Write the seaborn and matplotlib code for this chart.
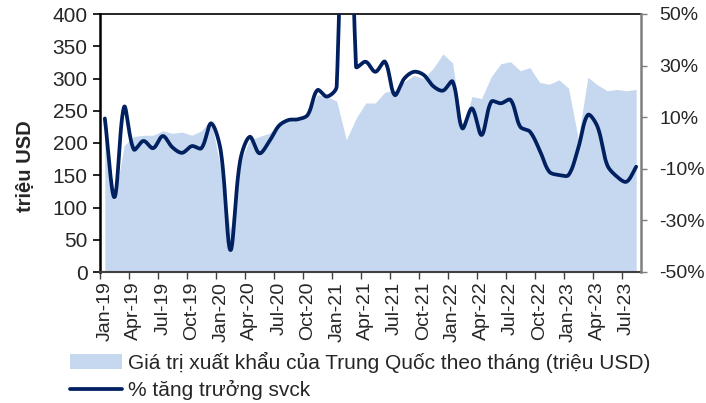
import numpy as np
import pandas as pd
import matplotlib
matplotlib.use("Agg")
import matplotlib.pyplot as plt
import seaborn as sns
from matplotlib.patches import Patch
from matplotlib.lines import Line2D

# ── data ─────────────────────────────────────────────────────────
months = pd.date_range("2019-01-01", "2023-08-01", freq="MS")
month_labels = [d.strftime("%b-%y") for d in months]

export_value = [
    225, 110, 196, 210, 212, 212, 219, 215, 217, 212, 219, 236,   # 2019
    160, 65, 170, 205, 210, 215, 228, 235, 238, 243, 275, 272,    # 2020
    265, 205, 238, 262, 262, 279, 281, 295, 305, 300, 316, 338,   # 2021
    324, 218, 272, 269, 303, 323, 326, 312, 317, 294, 291, 298,   # 2022
    285, 207, 302, 290, 281, 283, 281, 283,                       # 2023
]
yoy_growth = [
    9.5, -21, 14, -2.5, 0.8, -2, 2.7, -1.7, -3.8, -1.2, -2, 7.6,
    -3, -41.5, -7, 2.4, -4, 0.5, 6.6, 8.9, 9.2, 10.9, 20.5, 18,
    22, 200, 29.6, 31.5, 27.6, 31.5, 18.6, 25, 27.6, 26.4, 22, 20.3,
    23.8, 5.7, 13.4, 3.1, 16, 15.4, 16.7, 6.3, 4.4, -2.7, -11.1, -12.4,
    -12.4, -2, 10.9, 6.3, -8.5, -13, -15, -9.2,
]

area_label = "Giá trị xuất khẩu của Trung Quốc theo tháng (triệu USD)"
line_label = "% tăng trưởng svck"

AREA_COLOR = "#C6D8EF"
LINE_COLOR = "#002060"


def smooth_curve(xs, ys, sx, sy, n=24):
    """Excel-style smoothed line: bezier segments built in pixel space."""
    P = np.column_stack([np.asarray(xs, float) * sx, np.asarray(ys, float) * sy])
    pts = []
    last = len(P) - 1
    for i in range(last):
        p0, p1, p2, p3 = P[max(i - 1, 0)], P[i], P[i + 1], P[min(i + 2, last)]
        d1 = np.linalg.norm(p1 - p0)
        d2 = np.linalg.norm(p2 - p1)
        d3 = np.linalg.norm(p3 - p2)
        c1 = p1 + (p2 - p0) * d2 / (d1 + d2 + 1e-9) / 3
        c2 = p2 - (p3 - p1) * d2 / (d2 + d3 + 1e-9) / 3
        t = np.linspace(0, 1, n, endpoint=(i == last - 1))[:, None]
        seg = ((1 - t) ** 3) * p1 + 3 * ((1 - t) ** 2) * t * c1 \
            + 3 * (1 - t) * t ** 2 * c2 + t ** 3 * p2
        pts.append(seg)
    pts = np.vstack(pts)
    return pts[:, 0] / sx, pts[:, 1] / sy


sns.set_style("white")
plt.rcParams["font.family"] = ["Liberation Sans", "DejaVu Sans"]
plt.rcParams["font.size"] = 14

fig = plt.figure(figsize=(7.06, 4.03), dpi=100)
ax = fig.add_axes([100 / 706, 1 - 272 / 403, 541 / 706, 258 / 403])
ax2 = ax.twinx()

x = np.arange(len(months))

# area (left axis)
ax.fill_between(x, export_value, 0, color=AREA_COLOR, lw=0)
ax.set_xlim(-0.5, len(months) - 0.5)
ax.set_ylim(0, 400)
ax.set_yticks(np.arange(0, 401, 50))

# smoothed growth line (right axis)
px_per_month = 541 / len(months)
px_per_pct = 258 / 100
sx_, sy_ = smooth_curve(x, yoy_growth, px_per_month, px_per_pct)
line_df = pd.DataFrame({"x": sx_, "growth": sy_})
sns.lineplot(data=line_df, x="x", y="growth", ax=ax2, sort=False,
             color=LINE_COLOR, lw=2.7, estimator=None)
ax2.set_ylim(-50, 50)
ax2.set_yticks(np.arange(-50, 51, 20))
ax2.set_yticklabels([f"{v}%" for v in range(-50, 51, 20)])
ax2.set_xlim(-0.5, len(months) - 0.5)
ax2.set_xlabel("")
ax2.set_ylabel("")

# x axis: ticks on category boundaries, labels on every third month
ax.set_xticks(np.arange(-0.5, len(months) - 1, 3))
ax.set_xticklabels([])
ax.set_xticks(np.arange(0, len(months), 3), minor=True)
ax.set_xticklabels(month_labels[::3], minor=True, rotation=90, fontsize=14)
ax.tick_params(axis="x", which="major", direction="out", length=5,
               width=1, color="#404040", bottom=True)
ax.tick_params(axis="x", which="minor", length=0, pad=7)
ax.tick_params(axis="y", direction="out", length=5, width=1.2,
               color="black", left=True, pad=4, labelsize=15)
ax2.tick_params(axis="y", direction="out", length=4, width=1,
                color="#7f7f7f", right=True, pad=9, labelsize=14)

ax.set_ylabel("triệu USD", fontweight="bold", fontsize=14.5)
ax.yaxis.set_label_coords(-0.12, 0.41)

for sp in ["left", "top"]:
    ax.spines[sp].set_color("black")
ax.spines["left"].set_linewidth(1.8)
ax.spines["top"].set_linewidth(1.2)
ax.spines["bottom"].set_color("#404040")
ax.spines["bottom"].set_linewidth(1.5)
ax2.spines["right"].set_color("#7f7f7f")
ax2.spines["right"].set_linewidth(1.8)
for sp in ["left", "top", "bottom"]:
    ax2.spines[sp].set_visible(False)
ax.spines["right"].set_visible(False)

handles = [
    Patch(facecolor=AREA_COLOR, edgecolor="none"),
    Line2D([0], [0], color=LINE_COLOR, lw=2.7),
]
fig.legend(handles, [area_label, line_label], loc="upper left",
           bbox_to_anchor=(70 / 706, 1 - 352 / 403), frameon=False,
           handlelength=2.5, handletextpad=0.3, labelspacing=0.35,
           borderpad=0, borderaxespad=0, fontsize=15)

fig.savefig("out.png", dpi=100)
